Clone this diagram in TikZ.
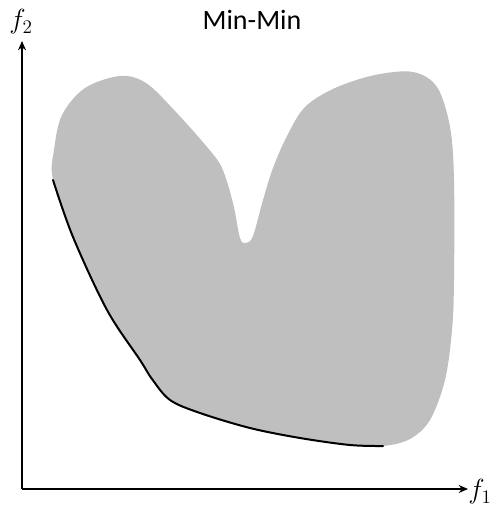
\documentclass[tikz,border=0pt]{standalone}
\usepackage{fontspec}
\newfontfamily\titlefont{Carlito}
\usetikzlibrary{arrows.meta}
\definecolor{regiongray}{RGB}{191,191,191}

\begin{document}
\begin{tikzpicture}[x=0.75pt,y=-0.75pt,line width=0.8pt,>={Stealth[length=7pt,width=6pt]},
  axislabel/.style={inner sep=0pt,font=\fontsize{21}{25}\selectfont}]
\useasboundingbox (0,0) rectangle (494,506);
% ---------- feasible region ----------
\fill[regiongray] plot[smooth cycle,tension=0.55] coordinates {
  (53,180) (54,150) (62,115) (85,88) (120,76) (146,83) (175,111) (207,147)
  (222,168) (233,203) (240,238) (246,243) (253,236) (263,200) (273,168)
  (287,136) (305,107) (335,88) (375,75) (413,72) (437,87) (450,127)
  (454,180) (454,280) (452,330) (445,380) (430,420) (410,439) (383,446)
  (350,445) (300,438) (250,428) (200,413) (170,400) (152,379) (140,360)
  (107,310) (73,237)};
% ---------- Pareto front ----------
\draw[line width=1.5pt,line cap=round] plot[smooth,tension=0.55] coordinates {
  (53,180) (73,237) (107,310) (140,360) (152,379) (170,400) (200,413)
  (250,428) (300,438) (350,445) (383,446)};
% ---------- axes ----------
\coordinate (origin) at (22,489);
\coordinate (xend) at (468,489);
\coordinate (yend) at (22,41);
\draw[->] (origin) -- (xend);
\draw[->] (origin) -- (yend);
\node[axislabel] (fone) at (480,492) {$f_1$};
\node[axislabel] (ftwo) at (21,22) {$f_2$};
\node[anchor=base] (title) at (252,30) {\fontsize{21}{25}\selectfont\titlefont Min-Min};
\end{tikzpicture}
\end{document}
